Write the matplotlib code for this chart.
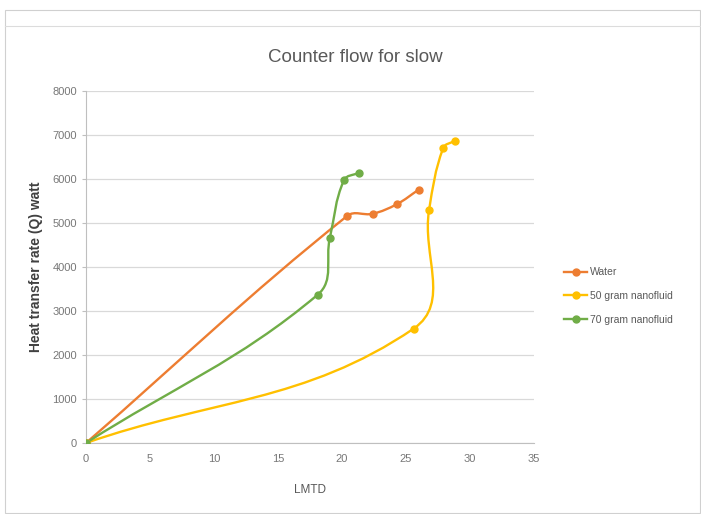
import numpy as np
import matplotlib
matplotlib.use("Agg")
import matplotlib.pyplot as plt
from matplotlib.path import Path
from matplotlib.patches import PathPatch, Rectangle
from matplotlib.lines import Line2D

plt.rcParams['font.family'] = ['Liberation Sans Narrow', 'Liberation Sans', 'DejaVu Sans']

# LMTD vs heat transfer rate, counter flow, slow
water_x = [0, 20.4, 22.4, 24.3, 26.0]
water_q = [0, 5160, 5210, 5430, 5760]

nf50_x = [0, 25.6, 26.8, 27.9, 28.8]
nf50_q = [0, 2600, 5290, 6700, 6870]

nf70_x = [0, 18.1, 19.05, 20.15, 21.3]
nf70_q = [0, 3370, 4660, 5970, 6140]

series = [
    ("Water", water_x, water_q, "#ED7D31"),
    ("50 gram nanofluid", nf50_x, nf50_q, "#FFC000"),
    ("70 gram nanofluid", nf70_x, nf70_q, "#70AD47"),
]

x_ticks = [0, 5, 10, 15, 20, 25, 30, 35]
y_ticks = [0, 1000, 2000, 3000, 4000, 5000, 6000, 7000, 8000]

# rough pixels per data unit, so the smoothing is done in screen-like space
SX, SY = 12.8, 0.044


def smooth_path(xs, ys, t=0.38):
    # bezier through the points, tangents from neighbours, handle length from segment length
    pts = np.column_stack([np.array(xs) * SX, np.array(ys) * SY]).astype(float)
    n = len(pts)
    tang = []
    for i in range(n):
        a = pts[max(i - 1, 0)]
        b = pts[min(i + 1, n - 1)]
        d = b - a
        tang.append(d / np.linalg.norm(d))
    verts = [pts[0]]
    codes = [Path.MOVETO]
    for i in range(n - 1):
        L = np.linalg.norm(pts[i + 1] - pts[i])
        verts += [pts[i] + tang[i] * L * t, pts[i + 1] - tang[i + 1] * L * t, pts[i + 1]]
        codes += [Path.CURVE4] * 3
    verts = np.array(verts) / [SX, SY]
    return Path(verts, codes)


fig = plt.figure(figsize=(7.01, 5.14), dpi=100)

# chart frame
fig.patches.append(Rectangle((5 / 701, 0.002), 695 / 701, 1 - 10 / 514 - 0.002,
                             transform=fig.transFigure, fill=False,
                             edgecolor="#d0d0d0", linewidth=0.8))
fig.add_artist(Line2D([5 / 701, 1], [1 - 26 / 514] * 2, color="#dcdcdc", linewidth=0.8))

ax = fig.add_axes([86 / 701, 1 - 443 / 514, 448 / 701, 352 / 514])

for name, xs, ys, col in series:
    ax.add_patch(PathPatch(smooth_path(xs, ys), facecolor="none", edgecolor=col,
                           linewidth=1.7, zorder=3))
    ax.plot(xs, ys, linestyle="none", marker="o", markersize=5, color=col, zorder=4)

ax.set_xlim(0, 35)
ax.set_ylim(0, 8000)
ax.set_xticks(x_ticks)
ax.set_yticks(y_ticks)
ax.grid(axis="y", color="#d9d9d9", linewidth=0.9)
ax.set_axisbelow(True)
for side in ["top", "right"]:
    ax.spines[side].set_visible(False)
ax.spines["left"].set_color("#bfbfbf")
ax.spines["bottom"].set_color("#bfbfbf")
ax.tick_params(colors="#bfbfbf", labelcolor="#777777", labelsize=8, length=3, width=0.8)
ax.tick_params(axis="x", length=0, pad=8)

fig.text(355 / 701, 1 - 58 / 514, "Counter flow for slow", fontsize=13.5,
         color="#595959", ha="center", va="center")
ax.set_xlabel("LMTD", fontsize=8.5, color="#595959", labelpad=14)
ax.set_ylabel("Heat transfer rate (Q) watt", fontsize=10, color="#404040",
              fontweight="bold")
ax.yaxis.set_label_coords(-43 / 448, 0.5)

handles = [Line2D([], [], color=col, linewidth=1.7, marker="o", markersize=5)
           for _, _, _, col in series]
fig.legend(handles, [s[0] for s in series], loc="center left",
           bbox_to_anchor=(555 / 701, 1 - 296 / 514), frameon=False,
           fontsize=7.5, labelcolor="#595959", handlelength=2.2,
           handletextpad=0.3, labelspacing=1.3)

fig.savefig("out.png", dpi=100, facecolor="white")
